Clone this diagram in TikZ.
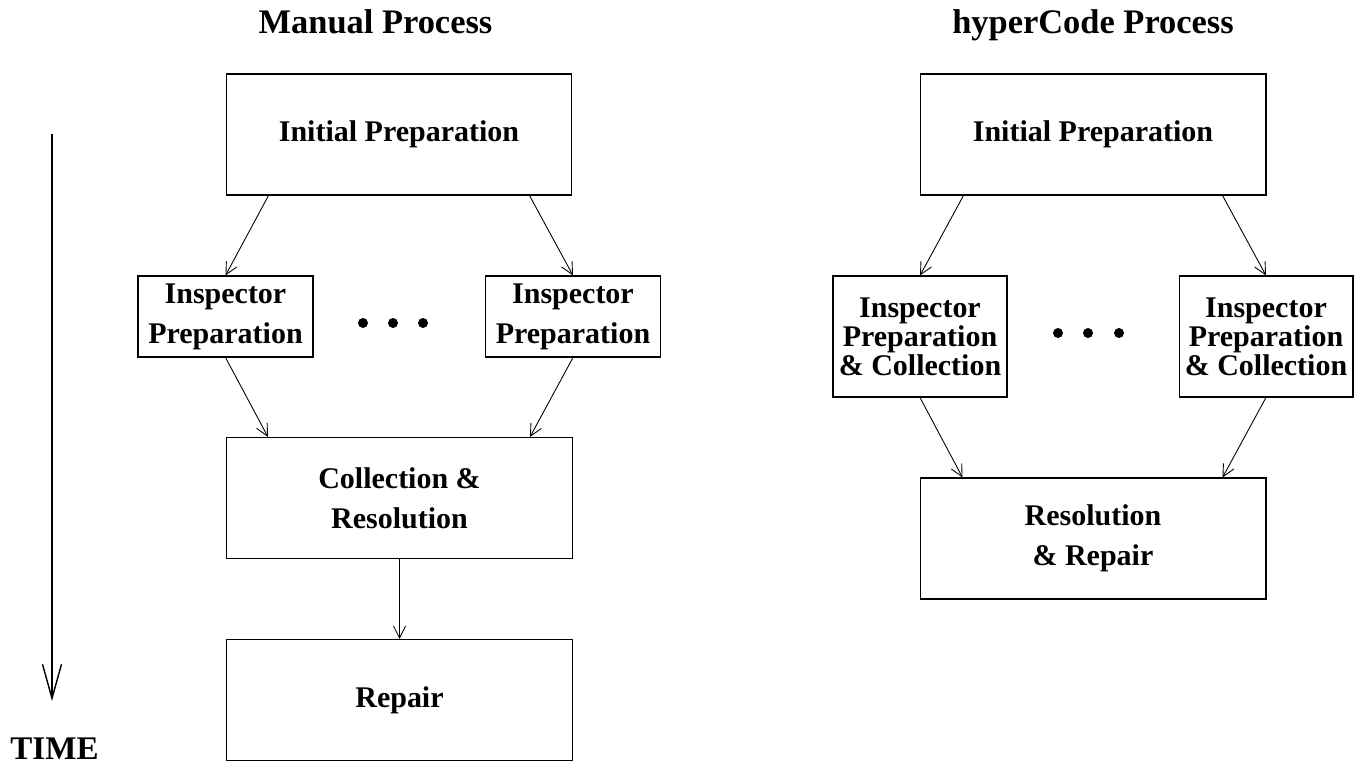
\documentclass[tikz,border=0pt]{standalone}
\usepackage{fontspec}
\setmainfont{Liberation Serif}
\usetikzlibrary{arrows.meta}

\begin{document}
\begin{tikzpicture}[x=0.02cm,y=-0.02cm,
    every node/.style={font=\fontsize{17.07}{22.8}\selectfont\bfseries,inner sep=0pt,align=center},
    bigbox/.style={draw,line width=0.6pt,minimum width=6.92cm,minimum height=2.42cm},
    smallbox/.style={draw,line width=0.6pt,minimum width=3.5cm,minimum height=1.62cm},
    tallbox/.style={draw,line width=0.6pt,minimum width=3.48cm,minimum height=2.42cm,
      font=\fontsize{17.07}{16.5}\selectfont\bfseries},
    flow/.style={line width=0.5pt,-{Straight Barb[length=6.8pt,width=6.8pt,line width=0.5pt]}},
    heading/.style={anchor=base,font=\fontsize{19.6}{24}\selectfont\bfseries}]
  \useasboundingbox (0,0) rectangle (1356,764);

  % manual process
  \node[heading] (titleL) at (375.5,33) {Manual Process};
  \node[bigbox] (initL) at (399,134.5) {Initial Preparation};
  \node[smallbox] (inspL1) at (225.5,316.5) {Inspector\\Preparation};
  \node[smallbox] (inspL2) at (573,316.5) {Inspector\\Preparation};
  \node[bigbox] (collL) at (399.5,498) {Collection \&\\Resolution};
  \node[bigbox] (repL) at (399.5,700) {Repair};

  \draw[flow] ([xshift=0.86cm]initL.south west) -- (inspL1.north);
  \draw[flow] ([xshift=-0.86cm]initL.south east) -- (inspL2.north);
  \draw[flow] (inspL1.south) -- ([xshift=0.84cm]collL.north west);
  \draw[flow] (inspL2.south) -- ([xshift=-0.86cm]collL.north east);
  \draw[flow] (collL.south) -- (repL.north);

  \fill (363,323) circle[radius=0.1cm];
  \fill (393,323) circle[radius=0.1cm];
  \fill (423,323) circle[radius=0.1cm];

  % hyperCode process
  \node[heading] (titleR) at (1093,33) {hyperCode Process};
  \node[bigbox] (initR) at (1093,134.5) {Initial Preparation};
  \node[tallbox] (inspR1) at (920,336.5) {Inspector\\Preparation\\\& Collection};
  \node[tallbox] (inspR2) at (1266,336.5) {Inspector\\Preparation\\\& Collection};
  \node[bigbox] (resR) at (1093,538.5) {Resolution\\\& Repair};

  \draw[flow] ([xshift=0.88cm]initR.south west) -- (inspR1.north);
  \draw[flow] ([xshift=-0.88cm]initR.south east) -- (inspR2.north);
  \draw[flow] (inspR1.south) -- ([xshift=0.86cm]resR.north west);
  \draw[flow] (inspR2.south) -- ([xshift=-0.88cm]resR.north east);

  \fill (1058,333) circle[radius=0.1cm];
  \fill (1088,333) circle[radius=0.1cm];
  \fill (1119,333) circle[radius=0.1cm];

  % time axis
  \coordinate (timetop) at (52,134);
  \coordinate (timebot) at (52,701);
  \draw[line width=1pt,-{Straight Barb[length=19.4pt,width=10.8pt,line width=0.8pt]}] (timetop) -- (timebot);
  \node[anchor=base,font=\fontsize{18.8}{22}\selectfont\bfseries] (timelbl) at (54.5,759) {TIME};
\end{tikzpicture}
\end{document}
